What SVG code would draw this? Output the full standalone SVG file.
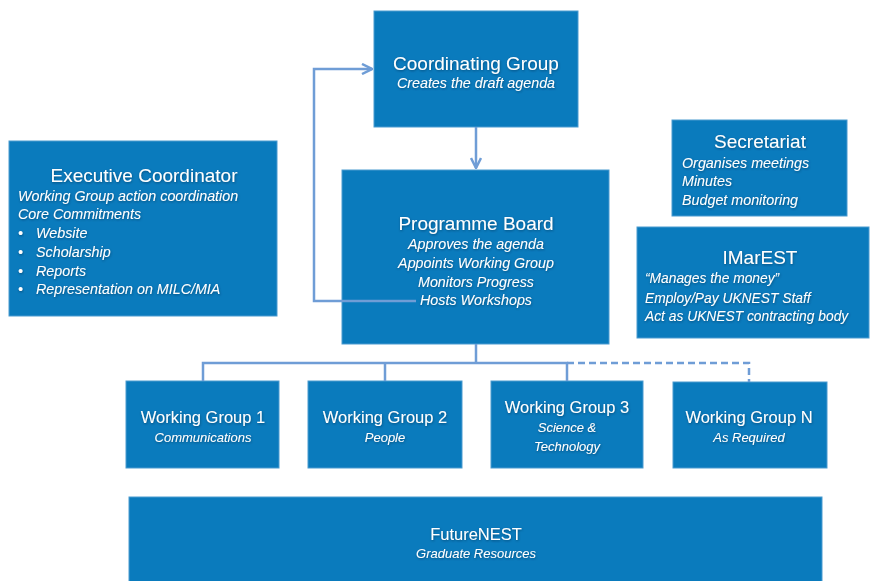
<svg xmlns="http://www.w3.org/2000/svg" width="870" height="581" viewBox="0 0 870 581">
<defs>
<marker id="arr" viewBox="0 0 10 10" refX="9" refY="5" markerWidth="5" markerHeight="5" orient="auto" markerUnits="strokeWidth">
<path d="M1,1 L9,5 L1,9" fill="none" stroke="#6f9dd6" stroke-width="2"/>
</marker>
<filter id="ts" x="-10%" y="-30%" width="120%" height="160%">
<feDropShadow dx="0.5" dy="1" stdDeviation="0.8" flood-color="#003355" flood-opacity="0.6"/>
</filter>
</defs>
<style>
.box{fill:#0a7bbd;stroke:#4b9bd0;stroke-width:1}
text{font-family:"Liberation Sans",Arial,sans-serif;fill:#ffffff;filter:url(#ts)}
.t{font-size:19px}
.wt{font-size:16.5px}
.s{font-size:14.3px;font-style:italic}
.s2{font-size:13.8px;font-style:italic}
.ws{font-size:13px;font-style:italic}
.c{text-anchor:middle}
.con{fill:none;stroke:#6f9dd6;stroke-width:2.5}
.dash{stroke-dasharray:7 4}
</style>
<rect width="870" height="581" fill="#ffffff"/>

<g id="coordinating-group">
<rect class="box" x="374" y="11" width="204" height="116"/>
<text class="t c" x="476" y="70">Coordinating Group</text>
<text class="s c" x="476" y="88">Creates the draft agenda</text>
</g>

<g id="executive-coordinator">
<rect class="box" x="9" y="141" width="268" height="175"/>
<text class="t c" x="144" y="182">Executive Coordinator</text>
<text class="s" x="18" y="201">Working Group action coordination</text>
<text class="s" x="18" y="219">Core Commitments</text>
<text class="s" x="18" y="238">•</text><text class="s" x="36" y="238">Website</text>
<text class="s" x="18" y="257">•</text><text class="s" x="36" y="257">Scholarship</text>
<text class="s" x="18" y="276">•</text><text class="s" x="36" y="276">Reports</text>
<text class="s" x="18" y="294">•</text><text class="s" x="36" y="294">Representation on MILC/MIA</text>
</g>

<g id="programme-board">
<rect class="box" x="342" y="170" width="267" height="174"/>
<text class="t c" x="476" y="230">Programme Board</text>
<text class="s c" x="476" y="249">Approves the agenda</text>
<text class="s c" x="476" y="268">Appoints Working Group</text>
<text class="s c" x="476" y="287">Monitors Progress</text>
<text class="s c" x="476" y="305">Hosts Workshops</text>
</g>

<g id="secretariat">
<rect class="box" x="672" y="120" width="175" height="96"/>
<text class="t c" x="760" y="148">Secretariat</text>
<text class="s" x="682" y="168">Organises meetings</text>
<text class="s" x="682" y="186">Minutes</text>
<text class="s" x="682" y="205">Budget monitoring</text>
</g>

<g id="imarest">
<rect class="box" x="637" y="227" width="232" height="111"/>
<text class="t c" x="760" y="264">IMarEST</text>
<text class="s2" x="645" y="283">“Manages the money”</text>
<text class="s2" x="645" y="303">Employ/Pay UKNEST Staff</text>
<text class="s2" x="645" y="321">Act as UKNEST contracting body</text>
</g>

<g id="working-group-1">
<rect class="box" x="126" y="381" width="153" height="87"/>
<text class="wt c" x="203" y="423">Working Group 1</text>
<text class="ws c" x="203" y="442">Communications</text>
</g>

<g id="working-group-2">
<rect class="box" x="308" y="381" width="154" height="87"/>
<text class="wt c" x="385" y="423">Working Group 2</text>
<text class="ws c" x="385" y="442">People</text>
</g>

<g id="working-group-3">
<rect class="box" x="491" y="381" width="152" height="87"/>
<text class="wt c" x="567" y="413">Working Group 3</text>
<text class="ws c" x="567" y="432">Science &amp;</text>
<text class="ws c" x="567" y="451">Technology</text>
</g>

<g id="working-group-n">
<rect class="box" x="673" y="382" width="154" height="86"/>
<text class="wt c" x="749" y="423">Working Group N</text>
<text class="ws c" x="749" y="442">As Required</text>
</g>

<g id="futurenest">
<rect class="box" x="129" y="497" width="693" height="90"/>
<text class="wt c" x="476" y="540">FutureNEST</text>
<text class="ws c" x="476" y="558">Graduate Resources</text>
</g>

<g id="connectors">
<path class="con" d="M476,127 V168" marker-end="url(#arr)"/>
<path class="con" d="M416,301 H314 V69 H372" marker-end="url(#arr)"/>
<path class="con" d="M476,344 V363"/>
<path class="con" d="M203,381 V363 H567 V381"/>
<path class="con" d="M385,363 V381"/>
<path class="con dash" d="M567,363 H749 V382"/>
</g>
</svg>
